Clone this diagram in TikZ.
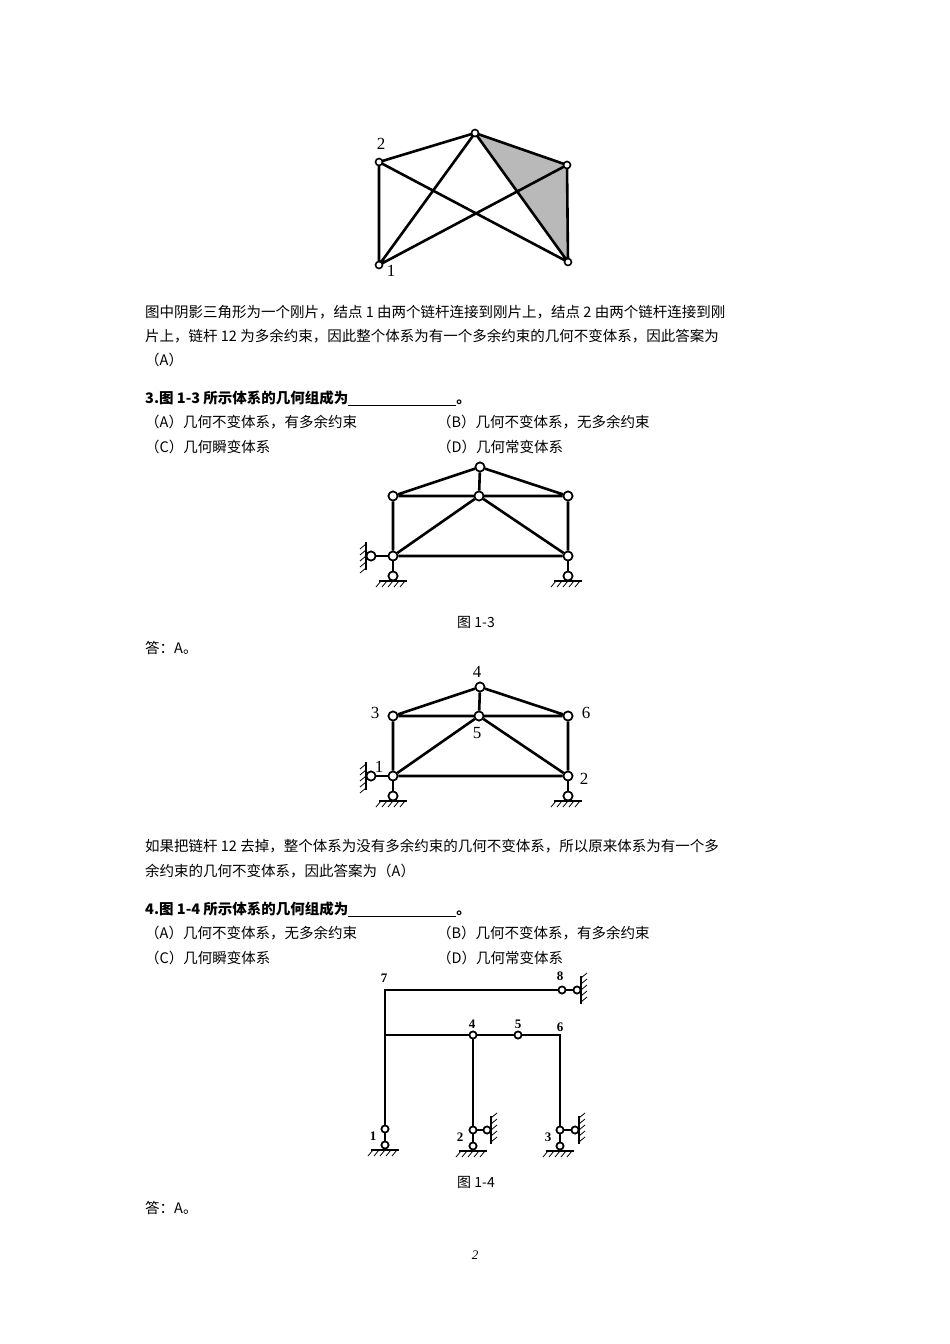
\documentclass[tikz,border=0pt]{standalone}
\usepackage{fontspec}
\newfontfamily\cjk{Noto Sans CJK SC}
\setmainfont{Liberation Serif}
\begin{document}
\begin{tikzpicture}[x=1pt,y=-1pt,
 mem/.style={line width=2.6pt},
 hg/.style={circle,draw,line width=1.6pt,fill=white,inner sep=0pt,minimum size=9pt},
 lbl/.style={font=\fontsize{17}{17}\selectfont},
 lbs/.style={font=\fontsize{13}{13}\selectfont\bfseries},
 txt/.style={anchor=west,inner sep=0pt,font=\cjk\fontsize{14.5}{14.5}\selectfont},
 captxt/.style={inner sep=0pt,font=\cjk\fontsize{14}{14}\selectfont}]
\useasboundingbox (0,0) rectangle (950,1344);
\newcommand\gndH[2]{\draw[line width=1.2pt] (#1-14,#2)--(#1+14,#2);
 \foreach \k in {-12,-6,0,6,12}{\draw[line width=0.8pt] (#1+\k,#2)--(#1+\k-5,#2+6);}}
\newcommand\gndV[2]{\draw[line width=1.2pt] (#1,#2-14)--(#1,#2+14);
 \foreach \k in {-12,-6,0,6,12}{\draw[line width=0.8pt] (#1,#2+\k)--(#1+6,#2+\k-5);}}
\newcommand\gndVL[2]{\draw[line width=1.2pt] (#1,#2-14)--(#1,#2+14);
 \foreach \k in {-12,-6,0,6,12}{\draw[line width=0.8pt] (#1,#2+\k)--(#1-6,#2+\k+5);}}
% ---------- figure 1
\coordinate (a2) at (379,162); \coordinate (at) at (475,133);
\coordinate (ar) at (567,165); \coordinate (ab) at (568,262); \coordinate (a1) at (379,265);
\fill[gray!55] (at)--(ar)--(ab)--cycle;
\draw[mem] (a2)--(at)--(ar)--(ab) (a2)--(a1) (a2)--(ab) (a1)--(ar) (at)--(a1) (at)--(ab);
\foreach \p in {a2,at,ar,ab,a1}{\node[hg,minimum size=7pt] at (\p) {};}
\node[lbl] (l2) at (381,144) {2}; \node[lbl] (l1) at (391,271) {1};
\node[txt] (t1) at (145,312) {图中阴影三角形为一个刚片，结点 1 由两个链杆连接到刚片上，结点 2 由两个链杆连接到刚};
\node[txt] (t2) at (145,336) {片上，链杆 12 为多余约束，因此整个体系为有一个多余约束的几何不变体系，因此答案为};
\node[txt] (t3) at (145,360) {（A）};
\node[txt,font=\cjk\bfseries\fontsize{14.5}{14.5}\selectfont] (q3) at (145,398) {3.图 1-3 所示体系的几何组成为\underline{\hspace{108pt}}。};
\node[txt] (o1) at (145,422) {（A）几何不变体系，有多余约束};
\node[txt] (o2) at (437,422) {（B）几何不变体系，无多余约束};
\node[txt] (o3) at (145,447) {（C）几何瞬变体系};
\node[txt] (o4) at (437,447) {（D）几何常变体系};
% ---------- figure 1-3 (two copies)
\foreach \dy in {0,220}{
 \begin{scope}[yshift=-\dy]
 \node[hg] (t) at (480,467) {}; \node[hg] (lm) at (393,496) {}; \node[hg] (c) at (479,496) {};
 \node[hg] (rm) at (568,496) {}; \node[hg] (lb) at (393,556) {}; \node[hg] (rb) at (568,556) {};
 \node[hg] (sl) at (393,576) {}; \node[hg] (sr) at (568,576) {}; \node[hg] (sh) at (371,556) {};
 \draw[mem] (t)--(lm) (t)--(rm) (t)--(c) (lm)--(rm) (lm)--(lb) (rm)--(rb) (lb)--(rb) (lb)--(c) (c)--(rb);
 \draw[line width=1.6pt] (lb)--(sl) (rb)--(sr) (lb)--(sh);
 \foreach \p in {t,lm,c,rm,lb,rb,sl,sr,sh}{\node[hg] at (\p) {};}
 \gndH{393}{581} \gndH{568}{581} \gndVL{366}{556}
 \end{scope}}
\node[lbl] (n4) at (477,672) {4}; \node[lbl] (n3) at (375,713) {3}; \node[lbl] (n6) at (586,713) {6};
\node[lbl] (n5) at (477,733) {5}; \node[lbl] (n1) at (379,767) {1}; \node[lbl] (n2) at (584,779) {2};
\node[captxt] (c13) at (476,622) {图 1-3};
\node[txt] (ans1) at (145,648) {答：A。};
\node[txt] (t4) at (145,846) {如果把链杆 12 去掉，整个体系为没有多余约束的几何不变体系，所以原来体系为有一个多};
\node[txt] (t5) at (145,871) {余约束的几何不变体系，因此答案为（A）};
\node[txt,font=\cjk\bfseries\fontsize{14.5}{14.5}\selectfont] (q4) at (145,909) {4.图 1-4 所示体系的几何组成为\underline{\hspace{108pt}}。};
\node[txt] (p1) at (145,933) {（A）几何不变体系，无多余约束};
\node[txt] (p2) at (437,933) {（B）几何不变体系，有多余约束};
\node[txt] (p3) at (145,958) {（C）几何瞬变体系};
\node[txt] (p4) at (437,958) {（D）几何常变体系};
% ---------- figure 1-4
\coordinate (k7) at (385,990); \coordinate (km) at (385,1035); \coordinate (k6) at (560,1035);
\node[hg,minimum size=7pt] (k8) at (562,990) {}; \node[hg,minimum size=7pt] (k8s) at (577,990) {};
\node[hg,minimum size=7pt] (k4) at (473,1035) {}; \node[hg,minimum size=7pt] (k5) at (518,1035) {};
\node[hg,minimum size=7pt] (k1) at (385,1129) {}; \node[hg,minimum size=7pt] (k1s) at (385,1145) {};
\node[hg,minimum size=7pt] (k2) at (473,1130) {}; \node[hg,minimum size=7pt] (k2s) at (473,1146) {}; \node[hg,minimum size=7pt] (k2h) at (487,1130) {};
\node[hg,minimum size=7pt] (k3) at (560,1130) {}; \node[hg,minimum size=7pt] (k3s) at (560,1146) {}; \node[hg,minimum size=7pt] (k3h) at (575,1130) {};
\draw[line width=2pt] (k1)--(k7)--(k8) (km)--(k4)--(k5)--(k6)--(k3) (k4)--(k2);
\draw[line width=1.5pt] (k8)--(k8s) (k1)--(k1s) (k2)--(k2s) (k2)--(k2h) (k3)--(k3s) (k3)--(k3h);
\foreach \p in {k8,k8s,k4,k5,k1,k1s,k2,k2s,k2h,k3,k3s,k3h}{\node[hg,minimum size=7pt] at (\p) {};}
\gndV{581}{990} \gndV{491}{1130} \gndV{579}{1130}
\gndH{385}{1150} \gndH{473}{1151} \gndH{560}{1151}
\node[lbs] (m7) at (384,978) {7}; \node[lbs] (m8) at (560,976) {8};
\node[lbs] (m4) at (472,1024) {4}; \node[lbs] (m5) at (518,1024) {5}; \node[lbs] (m6) at (560,1027) {6};
\node[lbs] (m1) at (373,1136) {1}; \node[lbs] (m2) at (460,1137) {2}; \node[lbs] (m3) at (548,1137) {3};
\node[captxt] (c14) at (476,1182) {图 1-4};
\node[txt] (ans2) at (145,1208) {答：A。};
\node[font=\itshape\fontsize{13}{13}\selectfont] (pg) at (475,1255) {2};
\end{tikzpicture}
\end{document}
